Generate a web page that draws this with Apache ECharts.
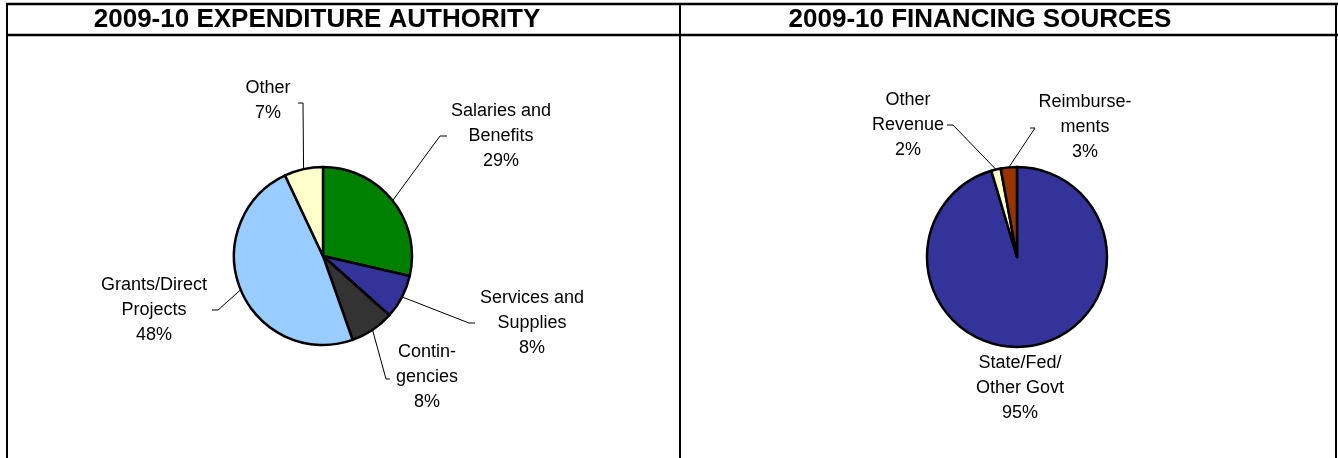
<!DOCTYPE html>
<html>
<head>
<meta charset="utf-8">
<script src="https://cdn.jsdelivr.net/npm/echarts@6/dist/echarts.min.js"></script>
<style>
  html, body { margin: 0; padding: 0; background: #fff; }
  #main { width: 1338px; height: 458px; }
</style>
</head>
<body>
<div id="main"></div>
<script>
// Expenditure authority (left pie), clockwise from 12 o'clock
const expCategories = ['Salaries and\nBenefits', 'Services and\nSupplies', 'Contin-\ngencies', 'Grants/Direct\nProjects', 'Other'];
const expValues = [28.6, 8.0, 8.0, 48.4, 7.0];
const expColors = ['#008000', '#333399', '#333333', '#99CCFF', '#FFFFCC'];

// Financing sources (right pie)
const finCategories = ['State/Fed/\nOther Govt', 'Other\nRevenue', 'Reimburse-\nments'];
const finValues = [95.4, 1.7, 2.9];
const finColors = ['#333399', '#FFFFCC', '#993300'];

// label block centres and leader bends (layout only)
const expLabelPos = [[501, 136], [532, 323], [427, 377], [154, 310], [268, 101]];
const expLineBend = [[[440, 136], [447, 136]], [[469, 323], [475, 323]], [[386, 379], [390, 379]], [[218, 310], [212, 310]], [[303, 103], [298, 103]]];
const finLabelPos = [[1020, 388], [908, 125], [1085, 127]];
const finLineBend = [null, [[953, 125], [947, 125]], [[1035, 128], [1030, 128]]];

const chart = echarts.init(document.getElementById('main'));

function makeLayout(pos, bends) {
    return function (params) {
        const i = params.dataIndex;
        const out = { x: pos[i][0], y: pos[i][1], align: 'center', verticalAlign: 'middle' };
        if (bends[i] && params.labelLinePoints) {
            out.labelLinePoints = [params.labelLinePoints[0], bends[i][0], bends[i][1]];
        }
        return out;
    };
}

function pieSeries(names, values, colors, center, radius, pos, bends) {
    return {
        type: 'pie',
        center: center,
        radius: radius,
        startAngle: 90,
        clockwise: true,
        percentPrecision: 0,
        avoidLabelOverlap: false,
        silent: true,
        itemStyle: { borderColor: '#000', borderWidth: 2.5 },
        label: {
            show: true,
            position: 'outside',
            formatter: '{b}\n{d}%',
            fontFamily: 'Liberation Sans, Arial, sans-serif',
            fontSize: 18,
            lineHeight: 25,
            color: '#000',
            align: 'center'
        },
        labelLine: { show: true, lineStyle: { color: '#000', width: 1 } },
        labelLayout: makeLayout(pos, bends),
        emphasis: { disabled: true },
        data: names.map((n, i) => ({
            name: n,
            value: values[i],
            itemStyle: { color: colors[i] },
            labelLine: { show: !!bends[i] }
        }))
    };
}

const titleStyle = {
    fontFamily: 'Liberation Sans, Arial, sans-serif',
    fontSize: 26,
    fontWeight: 'bold',
    color: '#000'
};

const option = {
    animation: false,
    backgroundColor: '#fff',
    title: [
        { text: '2009-10 EXPENDITURE AUTHORITY', left: 317, top: 20, textAlign: 'center', textVerticalAlign: 'middle', padding: 0, textStyle: titleStyle },
        { text: '2009-10 FINANCING SOURCES', left: 980, top: 20, textAlign: 'center', textVerticalAlign: 'middle', padding: 0, textStyle: titleStyle }
    ],
    graphic: [
        { type: 'line', shape: { x1: 6, y1: 4, x2: 1338, y2: 4 }, style: { stroke: '#000', lineWidth: 2.5 } },
        { type: 'line', shape: { x1: 6, y1: 35, x2: 1338, y2: 35 }, style: { stroke: '#000', lineWidth: 2.5 } },
        { type: 'line', shape: { x1: 7, y1: 3, x2: 7, y2: 458 }, style: { stroke: '#000', lineWidth: 2 } },
        { type: 'line', shape: { x1: 680, y1: 3, x2: 680, y2: 458 }, style: { stroke: '#000', lineWidth: 2 } },
        { type: 'line', shape: { x1: 1336, y1: 3, x2: 1336, y2: 458 }, style: { stroke: '#000', lineWidth: 2 } }
    ],
    series: [
        pieSeries(expCategories, expValues, expColors, [323, 256], 89, expLabelPos, expLineBend),
        pieSeries(finCategories, finValues, finColors, [1017, 257], 90, finLabelPos, finLineBend)
    ]
};

chart.setOption(option);
</script>
</body>
</html>
